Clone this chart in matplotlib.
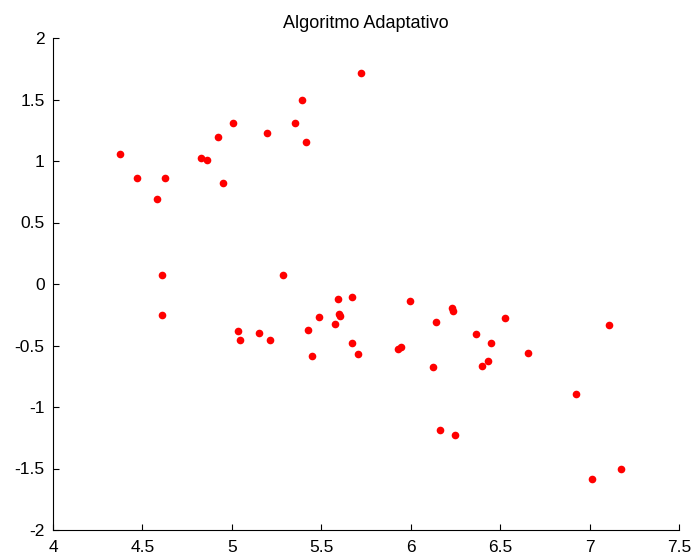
import matplotlib
matplotlib.use("Agg")
import matplotlib.pyplot as plt

plt.rcParams['font.family'] = ['Liberation Sans', 'DejaVu Sans']

x_vals = [4.375, 4.472, 4.584, 4.625, 4.825, 4.859, 4.924, 4.948, 5.004, 5.198,
          5.351, 5.392, 5.416, 5.721, 4.610, 5.286,
          4.610, 5.036, 5.045, 5.150, 5.213, 5.424, 5.448, 5.488, 5.577, 5.592,
          5.600, 5.605, 5.672, 5.672, 5.705, 5.994, 5.930, 5.948, 6.141, 6.230,
          6.238, 6.126, 6.529, 6.367, 6.449, 6.434, 6.400, 6.658, 7.109, 6.924,
          6.165, 6.247, 7.014, 7.175]
y_vals = [1.058, 0.861, 0.695, 0.861, 1.026, 1.012, 1.199, 0.825, 1.305, 1.224,
          1.305, 1.492, 1.154, 1.718, 0.074, 0.074,
          -0.251, -0.382, -0.452, -0.395, -0.452, -0.371, -0.583, -0.265, -0.325, -0.124,
          -0.240, -0.262, -0.103, -0.477, -0.569, -0.138, -0.526, -0.512, -0.311, -0.194,
          -0.216, -0.677, -0.278, -0.404, -0.477, -0.628, -0.666, -0.558, -0.335, -0.897,
          -1.190, -1.225, -1.588, -1.507]

x_ticks = [4, 4.5, 5, 5.5, 6, 6.5, 7, 7.5]
y_ticks = [-2, -1.5, -1, -0.5, 0, 0.5, 1, 1.5, 2]

fig = plt.figure(figsize=(6.93, 5.57), dpi=100)
ax = fig.add_axes([53 / 693, 27 / 557, 626 / 693, 492 / 557])
ax.plot(x_vals, y_vals, 'o', color='#ff0000', markersize=5.5, markeredgewidth=0)

ax.set_xlim(4, 7.5)
ax.set_ylim(-2, 2)
ax.set_xticks(x_ticks)
ax.set_yticks(y_ticks)
ax.set_xticklabels([f"{v:g}" for v in x_ticks])
ax.set_yticklabels([f"{v:g}" for v in y_ticks])
for side in ('top', 'right'):
    ax.spines[side].set_visible(False)
for side in ('left', 'bottom'):
    ax.spines[side].set_linewidth(0.8)
ax.tick_params(direction='in', length=4, width=0.8, labelsize=12.5)
ax.tick_params(axis='y', pad=6)
ax.tick_params(axis='x', pad=7)
ax.set_title('Algoritmo Adaptativo', fontsize=13, pad=7)

fig.savefig('out.png', dpi=100)
